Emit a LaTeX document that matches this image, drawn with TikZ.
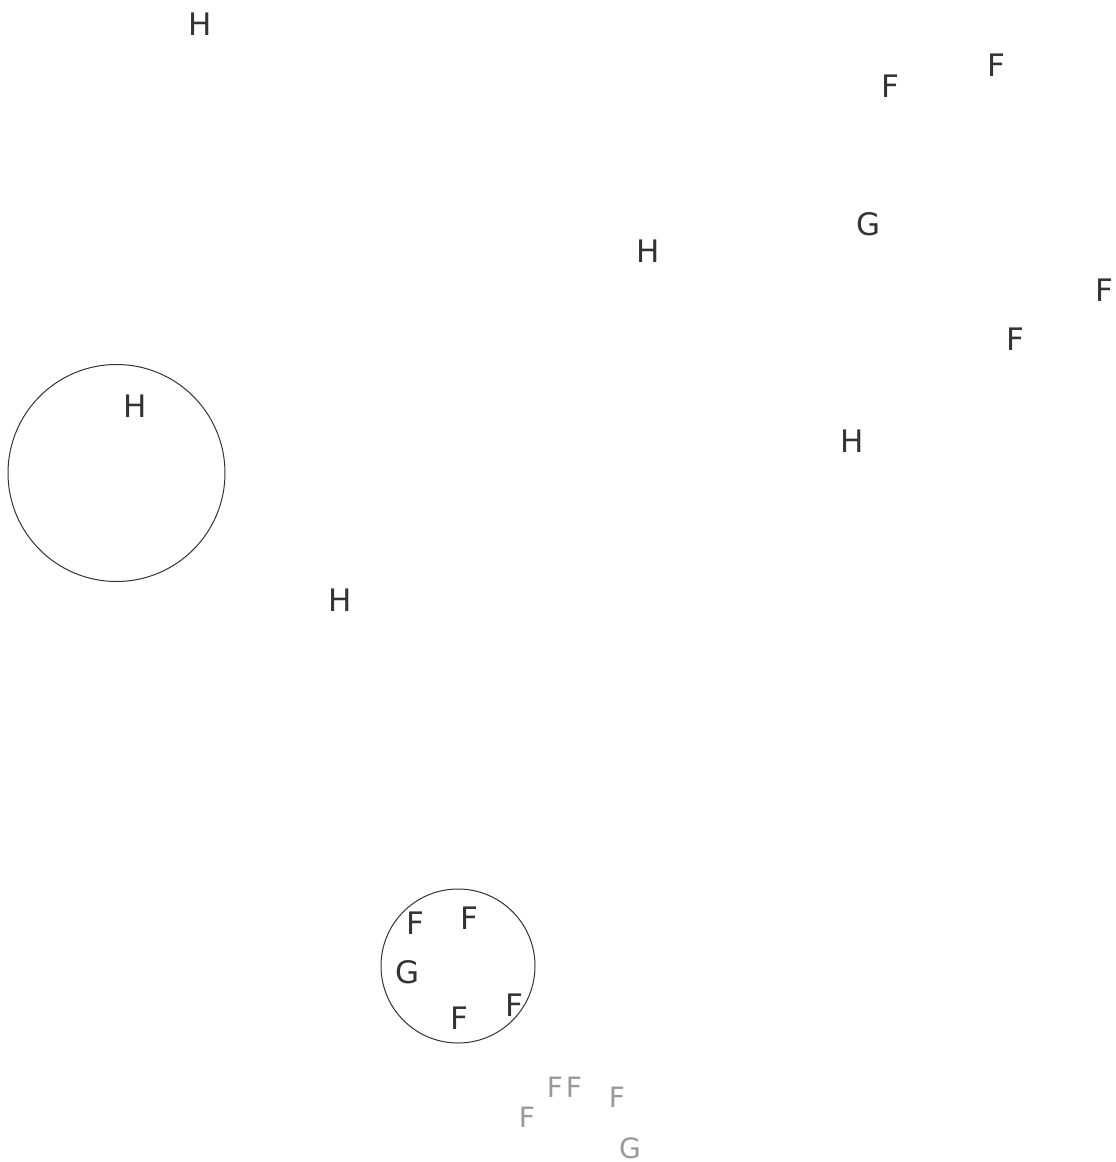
\documentclass[tikz,border=0pt]{standalone}
\usepackage{fontspec}
\setmainfont{DejaVu Sans}
\definecolor{dark}{HTML}{333333}
\definecolor{light}{HTML}{999999}
\begin{document}
\begin{tikzpicture}[x=1pt,y=-1pt,
  lbl/.style={inner sep=0pt,text=dark,font=\fontsize{31}{36}\selectfont},
  glbl/.style={inner sep=0pt,text=light,font=\fontsize{28}{33}\selectfont},
  ring/.style={draw=dark,line width=1pt,circle,inner sep=0pt}]
\useasboundingbox (0,0) rectangle (1116,1162);
\node[ring,minimum size=217pt] (c1) at (116.5,473) {};
\node[ring,minimum size=154pt] (c2) at (458,966) {};
\node[lbl] (h1) at (200,24) {H};
\node[lbl] (f1) at (890,86) {F};
\node[lbl] (f2) at (996,65) {F};
\node[lbl] (g1) at (869,224) {G};
\node[lbl] (h2) at (648,251) {H};
\node[lbl] (f3) at (1104,290) {F};
\node[lbl] (f4) at (1015,339) {F};
\node[lbl] (h3) at (852,441) {H};
\node[lbl] (h4) at (135,406) {H};
\node[lbl] (h5) at (340,600) {H};
\node[lbl] (f5) at (415,923) {F};
\node[lbl] (f6) at (469,918) {F};
\node[lbl] (g2) at (408,972) {G};
\node[lbl] (f7) at (459,1018) {F};
\node[lbl] (f8) at (514,1005) {F};
\node[glbl] (f9) at (527,1117) {F};
\node[glbl] (f10) at (555,1087) {F};
\node[glbl] (f11) at (574,1087) {F};
\node[glbl] (f12) at (617,1097) {F};
\node[glbl] (g3) at (630,1148) {G};
\end{tikzpicture}
\end{document}
